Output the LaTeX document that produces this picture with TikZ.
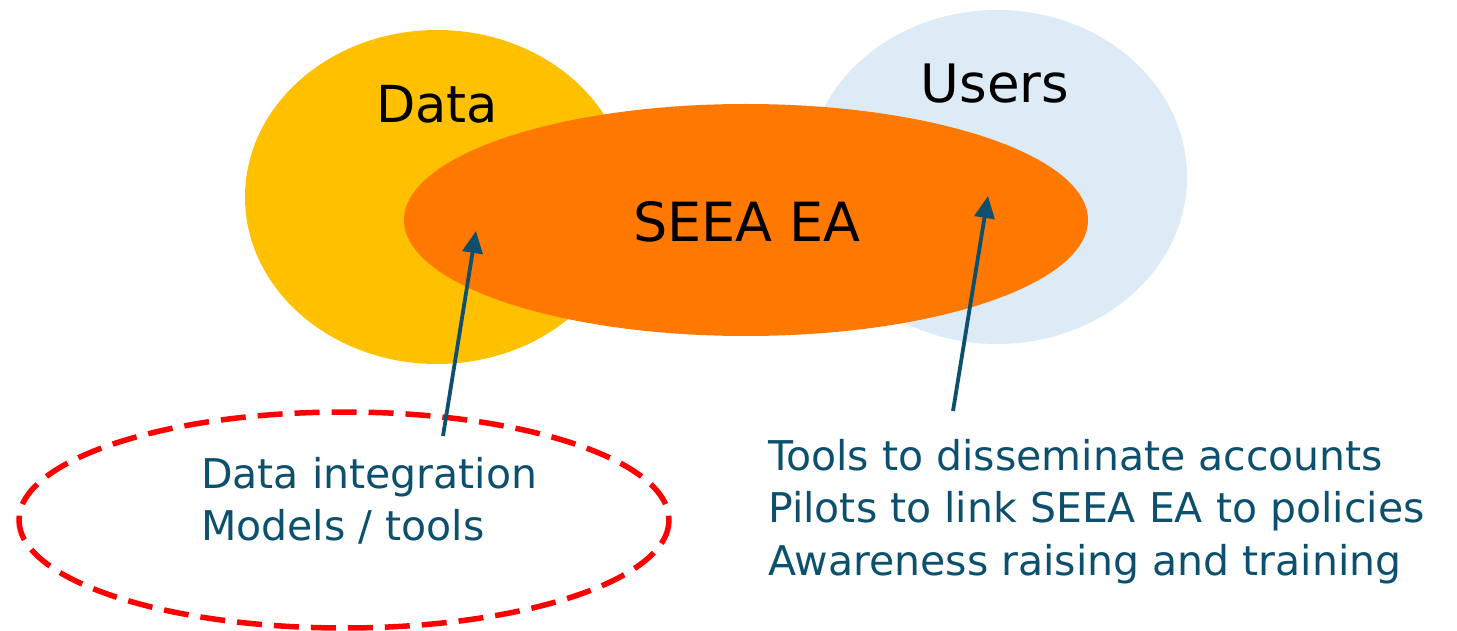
\documentclass[tikz,border=0pt]{standalone}
\usepackage{fontspec}
\setmainfont{DejaVu Sans}
\usetikzlibrary{arrows.meta}
\definecolor{datayellow}{RGB}{255,192,0}
\definecolor{usersblue}{RGB}{221,235,247}
\definecolor{seeaorange}{RGB}{255,120,0}
\definecolor{noteteal}{RGB}{12,80,110}
\definecolor{dashred}{RGB}{255,0,0}
\tikzset{
  pointer/.style={draw=noteteal, line width=3.8pt, -{Triangle[length=22pt,width=20pt]}},
  biglabel/.style={font=\fontsize{51}{60}\selectfont, text=black},
  notetext/.style={font=\fontsize{41}{52.5}\selectfont, text=noteteal, align=left, inner sep=0pt},
}
\begin{document}
\begin{tikzpicture}[x=1pt,y=-1pt]
\useasboundingbox (0,0) rectangle (1457,631);
% the three overlapping sets
\fill[datayellow] (437,197) ellipse [x radius=192, y radius=167];
\fill[usersblue] (997,177) ellipse [x radius=190, y radius=167];
\fill[seeaorange] (746,220) ellipse [x radius=342, y radius=116];
% dashed outline round the data notes
\draw[dashred, line width=5.5pt, dash pattern=on 25pt off 12pt] (344,520) ellipse [x radius=325, y radius=108];
% labels of the sets
\node[biglabel] (data) at (437,104) {Data};
\node[biglabel, font=\fontsize{53}{62}\selectfont] (users) at (995,84) {Users};
\node[biglabel, font=\fontsize{54}{64}\selectfont] (seea) at (747,222) {SEEA EA};
% notes
\node[notetext, anchor=north west] (datanote) at (201,457) {Data integration\\Models / tools};
\node[notetext, anchor=north west] (usernote) at (768,439) {Tools to disseminate accounts\\Pilots to link SEEA EA to policies\\Awareness raising and training};
% pointers into the central set
\coordinate (dtail) at (443,436);
\coordinate (dtip) at (476,231);
\coordinate (utail) at (953,411);
\coordinate (utip) at (988,196);
\draw[pointer] (dtail) -- (dtip);
\draw[pointer] (utail) -- (utip);
\end{tikzpicture}
\end{document}
